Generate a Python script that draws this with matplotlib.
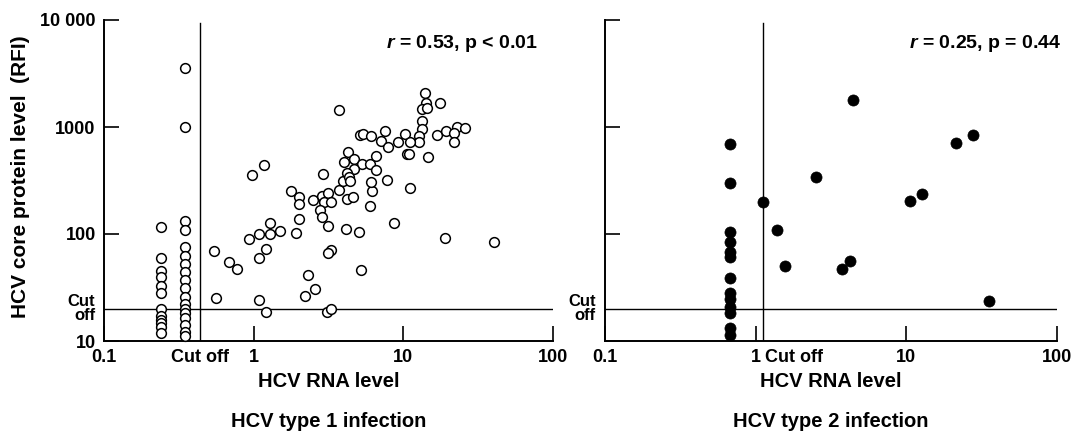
import numpy as np
import matplotlib
matplotlib.use("Agg")
import matplotlib.pyplot as plt
import matplotlib.transforms as mtransforms
from matplotlib.ticker import NullLocator

plt.rcParams['font.family'] = ['Liberation Sans', 'DejaVu Sans']
plt.rcParams['font.weight'] = 'bold'
plt.rcParams['mathtext.fontset'] = 'custom'
plt.rcParams['mathtext.rm'] = 'Liberation Sans:bold'
plt.rcParams['mathtext.it'] = 'Liberation Sans:italic:bold'

# axis ticks
x_ticks = [0.1, 1, 10, 100]
x_tick_labels = ["0.1", "1", "10", "100"]
y_ticks = [10, 100, 1000, 10000]
y_tick_labels = ["10", "100", "1000", "10 000"]

# cut off levels
core_cutoff = 20
type1_rna_cutoff = 0.436
type2_rna_cutoff = 1.12

# HCV type 1 : samples below RNA cut off (two columns)
type1_neg_x = [0.24, 0.35]
type1_neg_core_a = [116, 59.7, 45.1, 39.6, 32.7, 28.1, 19.9, 17.1, 15.7, 14.7, 13.5, 11.9]
type1_neg_core_b = [3560, 1000, 132, 109, 75.6, 62.3, 52.4, 44.2, 37.2, 31.3, 25.8,
                    22.2, 19.9, 18.3, 16.4, 14.1, 12.1, 11.1]

# HCV type 1 : samples above RNA cut off
type1_rna = [1.18, 0.98, 1.78, 2.0, 2.0, 2.5, 2.9, 2.85, 3.16, 2.97,
             3.3, 2.79, 2.87, 3.16, 3.7, 3.95, 2.0, 1.91, 1.29, 1.08,
             1.29, 1.49, 0.93, 1.21, 1.08, 0.54, 0.68, 0.77, 3.3, 3.14,
             2.3, 2.58, 2.19, 0.56, 1.08, 1.2, 3.07, 3.27, 4.15, 4.23,
             5.22, 8.71, 19.1, 40.4, 5.09, 6.03, 6.21, 11.0, 7.74, 14.0,
             17.7, 14.2, 13.4, 14.4, 13.4, 13.4, 12.8, 12.8, 16.9, 19.3,
             3.74, 5.17, 5.41, 6.09, 7.59, 7.1, 7.86, 9.16, 10.3, 11.0,
             10.6, 10.9, 14.7, 4.25, 4.0, 4.66, 5.27, 6.03, 6.58, 6.58,
             4.66, 4.21, 4.32, 4.37, 6.09, 4.59, 23.0, 25.9, 21.9, 21.9]
type1_core = [439, 354, 252, 220, 191, 209, 361, 228, 240, 199,
              199, 166, 143, 118, 258, 315, 137, 103, 127, 99,
              101, 107, 90, 73, 59.3, 68.9, 54.7, 47.4, 70.8, 66,
              41.1, 30.4, 26.4, 25.4, 24.2, 18.7, 18.5, 19.8, 111, 213,
              46.1, 128, 91.8, 84.7, 105, 183, 251, 272, 323, 2065,
              1665, 1665, 1473, 1514, 1146, 964, 824, 729, 842, 918,
              1442, 842, 860, 824, 923, 740, 655, 729, 855, 729,
              560, 560, 521, 588, 474, 499, 451, 451, 536, 396,
              402, 369, 343, 315, 304, 223, 1007, 972, 873, 729]

# HCV type 2
type2_neg_x = 0.68
type2_neg_core = [698, 300, 104, 84, 68, 61, 39, 28, 24.5, 21, 18.4, 13.1, 11.5]
type2_rna = [1.12, 1.39, 1.56, 2.52, 4.46, 3.75, 4.24, 10.6, 12.8, 21.2, 27.5, 35.5]
type2_core = [198, 110, 50.6, 343, 1787, 46.8, 56.3, 202, 236, 704, 842, 23.5]

W, H = 1082, 434
fig = plt.figure(figsize=(W / 100, H / 100), dpi=100)
ax1 = fig.add_axes([104 / W, 1 - 341 / H, 449 / W, 321 / H])
ax2 = fig.add_axes([605 / W, 1 - 341 / H, 452 / W, 321 / H])


def setup_axes(ax, rna_cut, show_ylabels):
    ax.set_xscale('log')
    ax.set_yscale('log')
    ax.set_xlim(0.1, 100)
    ax.set_ylim(10, 10000)
    for s in ['top', 'right']:
        ax.spines[s].set_visible(False)
    for s in ['left', 'bottom']:
        ax.spines[s].set_linewidth(1.4)
    ax.set_xticks(x_ticks)
    ax.set_xticklabels(x_tick_labels)
    ax.set_yticks(y_ticks)
    ax.set_yticklabels(y_tick_labels if show_ylabels else [])
    ax.xaxis.set_minor_locator(NullLocator())
    ax.yaxis.set_minor_locator(NullLocator())
    ax.tick_params(direction='in', length=11, width=1.2, labelsize=13, pad=6)

    # cut off lines
    ax.axhline(core_cutoff, color='black', lw=1.0)
    ax.axvline(rna_cut, ymax=0.99, color='black', lw=1.0)

    trans_y = mtransforms.blended_transform_factory(ax.transAxes, ax.transData)
    ax.text(-0.02, core_cutoff, "Cut\noff", transform=trans_y, ha='right', va='center',
            fontsize=12, linespacing=0.95, multialignment='right')

    ax.text(0.5, -0.125, "HCV RNA level", transform=ax.transAxes, ha='center',
            va='center', fontsize=14.5)


setup_axes(ax1, type1_rna_cutoff, True)
setup_axes(ax2, type2_rna_cutoff, False)

trans1 = mtransforms.blended_transform_factory(ax1.transData, ax1.transAxes)
ax1.text(type1_rna_cutoff, -0.026, "Cut off", transform=trans1, ha='center', va='top',
         fontsize=13)
trans2 = mtransforms.blended_transform_factory(ax2.transData, ax2.transAxes)
ax2.text(type2_rna_cutoff * 1.03, -0.026, "Cut off", transform=trans2, ha='left', va='top',
         fontsize=13)

# type 1 points (open circles)
open_style = dict(linestyle='none', marker='o', ms=7, mfc='white', mec='black',
                  mew=1.1, clip_on=False, zorder=3)
ax1.plot([type1_neg_x[0]] * len(type1_neg_core_a), type1_neg_core_a, **open_style)
ax1.plot([type1_neg_x[1]] * len(type1_neg_core_b), type1_neg_core_b, **open_style)
ax1.plot(type1_rna, type1_core, **open_style)

# type 2 points (filled circles)
fill_style = dict(linestyle='none', marker='o', ms=8, mfc='black', mec='black',
                  mew=0.5, clip_on=False, zorder=3)
ax2.plot([type2_neg_x] * len(type2_neg_core), type2_neg_core, **fill_style)
ax2.plot(type2_rna, type2_core, **fill_style)

ax1.text(0.967, 0.928, "$r$ = 0.53, p < 0.01", transform=ax1.transAxes, ha='right',
         va='center', fontsize=14)
ax2.text(1.01, 0.928, "$r$ = 0.25, p = 0.44", transform=ax2.transAxes, ha='right',
         va='center', fontsize=14)

ax1.text(0.5, -0.25, "HCV type 1 infection", transform=ax1.transAxes, ha='center',
         va='center', fontsize=14.5)
ax2.text(0.5, -0.25, "HCV type 2 infection", transform=ax2.transAxes, ha='center',
         va='center', fontsize=14.5)

fig.text(21 / W, 1 - 177 / H, "HCV core protein level  (RFI)", rotation=90,
         ha='center', va='center', fontsize=15)

fig.savefig("out.png", dpi=100)
